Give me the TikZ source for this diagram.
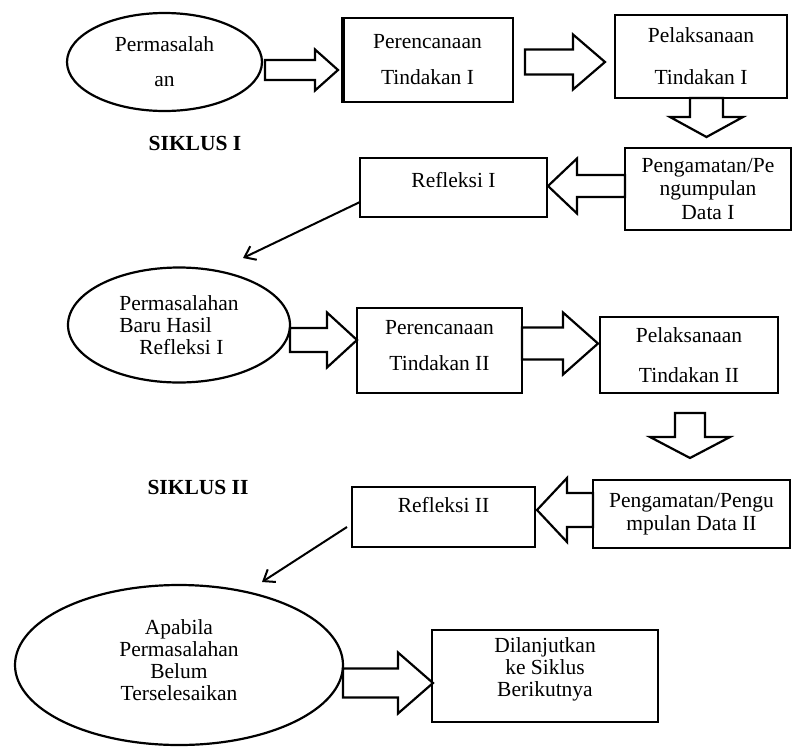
\documentclass[tikz,border=0pt]{standalone}
\usepackage{fontspec}
\setmainfont{Liberation Serif}
\usetikzlibrary{shapes.geometric,calc,arrows.meta}
\newcommand{\harrow}[5]{%
 \draw[blk] let \p1=(#1), \p2=(#2) in
 ({\x1},{\y2+#4pt}) -- ({\x2-(#3pt)},{\y2+#4pt}) -- ({\x2-(#3pt)},{\y2+#5pt}) -- (\x2,\y2)
 -- ({\x2-(#3pt)},{\y2-#5pt}) -- ({\x2-(#3pt)},{\y2-#4pt}) -- ({\x1},{\y2-#4pt}) -- cycle;}
\newcommand{\varrow}[5]{%
 \draw[blk] let \p1=(#1), \p2=(#2) in
 ({\x2-#4pt},{\y1}) -- ({\x2-#4pt},{\y2+#3pt}) -- ({\x2-#5pt},{\y2+#3pt}) -- (\x2,\y2)
 -- ({\x2+#5pt},{\y2+#3pt}) -- ({\x2+#4pt},{\y2+#3pt}) -- ({\x2+#4pt},{\y1}) -- cycle;}
\tikzset{
 txt/.style={font=\fontsize{21.5}{22}\selectfont, align=center, inner sep=0pt, outer sep=0pt},
 boxnode/.style={txt, draw, line width=2.2pt, rectangle},
 ellnode/.style={txt, draw, line width=2.2pt, ellipse},
 blk/.style={draw, line width=2.2pt, fill=white, line join=miter},
 conn/.style={line width=2pt, -{Straight Barb[length=10pt,width=15pt,line width=2pt]}},
 titlenode/.style={font=\fontsize{21.5}{22}\selectfont\bfseries, inner sep=0pt}
}
\begin{document}
\begin{tikzpicture}[x=1pt,y=-1pt]
\fill[white] (0,0) rectangle (792,747);
\useasboundingbox (0,0) rectangle (792,747);

% cycle I
\node[ellnode, minimum width=195pt, minimum height=98pt] (e1) at (164.5,62) {Permasalah\\[13pt]an};
\node[boxnode, minimum width=171pt, minimum height=84pt] (b1) at (427.5,60) {Perencanaan\\[14pt]Tindakan I};
\draw[line width=2.2pt] ($(b1.north west)+(2.2,0)$) -- ($(b1.south west)+(2.2,0)$);
\node[boxnode, minimum width=172pt, minimum height=83pt] (b2) at (701,56.5) {Pelaksanaan\\[20pt]Tindakan I};
\node[boxnode, minimum width=166pt, minimum height=82pt] (b3) at (708,189) {Pengamatan/Pe\\[1.5pt]ngumpulan\\[1.5pt]Data I};
\node[boxnode, minimum width=187pt, minimum height=59pt, text depth=15pt] (b4) at (453.5,187.5) {Refleksi I};
\node[titlenode] (s1) at (195,143) {SIKLUS I};

\harrow{$(e1.east)+(3,0)$}{$(b1.west)+(-4,10)$}{23}{10}{20.5}
\harrow{$(b1.east)+(12,0)$}{$(b2.west)+(-10,5.5)$}{32}{12.5}{27.5}
\varrow{b2.south}{$(b3.north)+(-1.5,-11)$}{20}{16.5}{36.5}
\harrow{b3.west}{$(b4.east)+(1,-1.5)$}{-29}{11}{27.5}

\coordinate (c1end) at (243,258);
\draw[conn] ($(b4.south west)+(0,-15)$) -- (c1end);

% cycle II
\node[ellnode, minimum width=222pt, minimum height=115pt, align=left] (e2) at (179,325) {Permasalahan\\Baru Hasil\\\hspace*{20pt}Refleksi I};
\node[boxnode, minimum width=165pt, minimum height=85pt, text depth=11pt] (b5) at (439.5,350.5) {Perencanaan\\[14pt]Tindakan II};
\node[boxnode, minimum width=178pt, minimum height=76pt] (b6) at (689,355) {Pelaksanaan\\[18pt]Tindakan II};
\node[boxnode, minimum width=197pt, minimum height=68pt] (b7) at (691.5,514) {Pengamatan/Pengu\\[1pt]mpulan Data II};
\node[boxnode, minimum width=183pt, minimum height=60pt, text depth=24pt] (b8) at (443.5,517) {Refleksi II};
\node[titlenode] (s2) at (198,487) {SIKLUS II};

\harrow{e2.east}{$(b5.west)+(0,-10.5)$}{30}{12}{27.5}
\harrow{b5.east}{$(b6.west)+(-2,-11.5)$}{35}{16}{31}
\varrow{$(b6.south)+(0,20)$}{$(b7.north)+(-1.5,-22)$}{21}{15}{40}
\harrow{b7.west}{$(b8.east)+(2,-7)$}{-30}{17}{32}

\coordinate (c2end) at (262,582);
\draw[conn] ($(b8.south west)+(-5,-20)$) -- (c2end);

% continuation
\node[ellnode, minimum width=328pt, minimum height=160pt, text depth=10pt] (e3) at (179,665) {Apabila\\Permasalahan\\Belum\\Terselesaikan};
\node[boxnode, minimum width=226pt, minimum height=92pt, text depth=17pt] (b9) at (545,676) {Dilanjutkan\\ke Siklus\\Berikutnya};
\harrow{e3.east}{$(b9.west)+(1,7)$}{35}{14.5}{30.5}
\end{tikzpicture}
\end{document}
